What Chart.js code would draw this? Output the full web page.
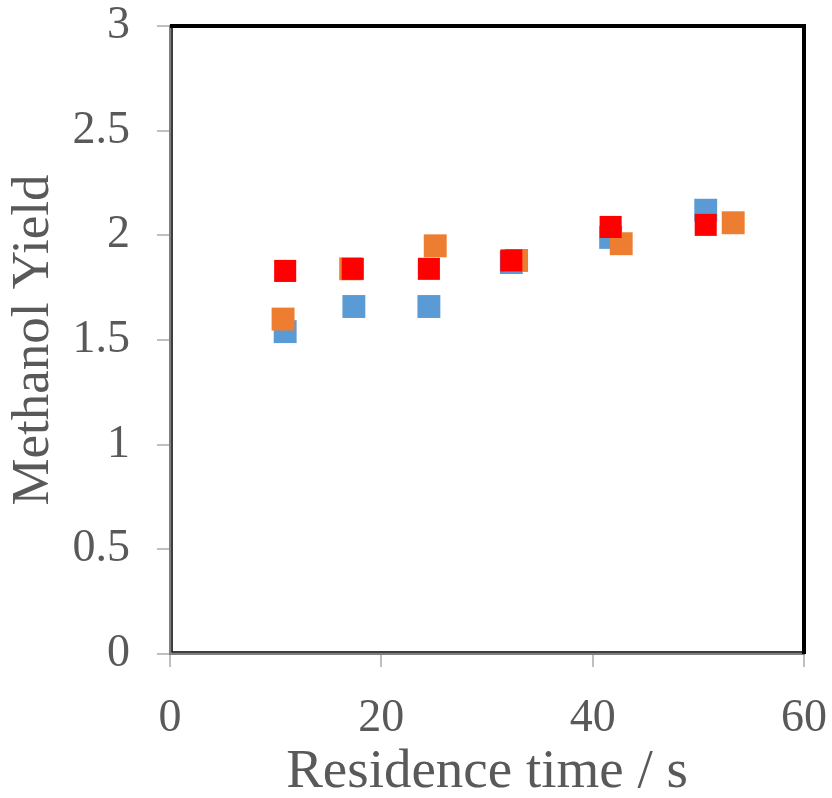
<!DOCTYPE html>
<html>
<head>
<meta charset="utf-8">
<script src="https://cdn.jsdelivr.net/npm/chart.js@4/dist/chart.umd.min.js"></script>
<style>
  html, body { margin: 0; padding: 0; background: #ffffff; }
  #wrap { width: 832px; height: 798px; }
</style>
</head>
<body>
<div id="wrap"><canvas id="c" width="832" height="798"></canvas></div>
<script>
// ---- data ----
const blueX   = [10.9, 17.4, 24.5, 32.3, 41.7, 50.7];
const blueY   = [1.54, 1.66, 1.66, 1.87, 1.99, 2.12];
const orangeX = [10.7, 17.1, 25.1, 32.8, 42.7, 53.3];
const orangeY = [1.60, 1.84, 1.95, 1.88, 1.96, 2.06];
const redX    = [10.9, 17.3, 24.5, 32.3, 41.7, 50.7];
const redY    = [1.83, 1.84, 1.84, 1.88, 2.04, 2.05];

const xTitle = 'Residence time / s';
const yTitle = 'Methanol Yield';
const xMin = 0, xMax = 60, xStep = 20;
const yMin = 0, yMax = 3, yStep = 0.5;

function pts(xs, ys) { return xs.map((x, i) => ({ x: x, y: ys[i] })); }

const TEXT = '#595959';
const FONT = 'Liberation Serif';

const framePlugin = {
  id: 'frame',
  afterDraw(chart) {
    const a = chart.chartArea, ctx = chart.ctx;
    ctx.save();
    ctx.strokeStyle = '#000000';
    ctx.lineWidth = 4;
    ctx.beginPath();
    ctx.moveTo(a.left, a.top);
    ctx.lineTo(a.right, a.top);
    ctx.lineTo(a.right, a.bottom);
    ctx.stroke();
    ctx.lineWidth = 1.5;
    ctx.beginPath();
    ctx.moveTo(a.left + 2, a.top);
    ctx.lineTo(a.left + 2, a.bottom - 2);
    ctx.lineTo(a.right, a.bottom - 2);
    ctx.stroke();
    ctx.restore();
  }
};

new Chart(document.getElementById('c'), {
  type: 'scatter',
  data: {
    datasets: [
      { label: 'A', data: pts(blueX, blueY), backgroundColor: '#5B9BD5', borderWidth: 0, pointStyle: 'rect', pointRadius: 16.2, pointHoverRadius: 16.2, order: 3 },
      { label: 'B', data: pts(orangeX, orangeY), backgroundColor: '#ED7D31', borderWidth: 0, pointStyle: 'rect', pointRadius: 16.2, pointHoverRadius: 16.2, order: 2 },
      { label: 'C', data: pts(redX, redY), backgroundColor: '#FF0000', borderWidth: 0, pointStyle: 'rect', pointRadius: 15.6, pointHoverRadius: 15.6, order: 1 }
    ]
  },
  options: {
    responsive: false,
    animation: false,
    devicePixelRatio: 1,
    layout: { padding: { left: 0, top: 26, right: 28, bottom: 0 } },
    plugins: { legend: { display: false }, tooltip: { enabled: false } },
    scales: {
      x: {
        type: 'linear', min: xMin, max: xMax,
        ticks: { stepSize: xStep, color: TEXT, font: { family: FONT, size: 46 }, padding: 24, maxRotation: 0, callback: v => String(v) },
        grid: { drawOnChartArea: false, drawTicks: true, tickLength: 13, tickColor: '#BFBFBF', lineWidth: 2 },
        border: { display: true, color: '#7F7F7F', width: 2 },
        title: { display: true, text: xTitle, color: TEXT, font: { family: FONT, size: 55, lineHeight: 0.92 }, padding: { top: 0, bottom: 0 } },
        afterFit(s) { s.height = 144; s.paddingLeft = 0; s.paddingRight = 0; }
      },
      y: {
        type: 'linear', min: yMin, max: yMax,
        ticks: { stepSize: yStep, color: TEXT, font: { family: FONT, size: 46 }, padding: 27, callback: v => String(v) },
        grid: { drawOnChartArea: false, drawTicks: true, tickLength: 13, tickColor: '#BFBFBF', lineWidth: 2 },
        border: { display: true, color: '#7F7F7F', width: 2 },
        title: { display: true, text: yTitle, color: TEXT, font: { family: FONT, size: 53 }, padding: { top: 2, bottom: 0 } },
        afterFit(s) { s.width = 170; s.paddingTop = 0; s.paddingBottom = 0; }
      }
    }
  },
  plugins: [framePlugin]
});
</script>
</body>
</html>
